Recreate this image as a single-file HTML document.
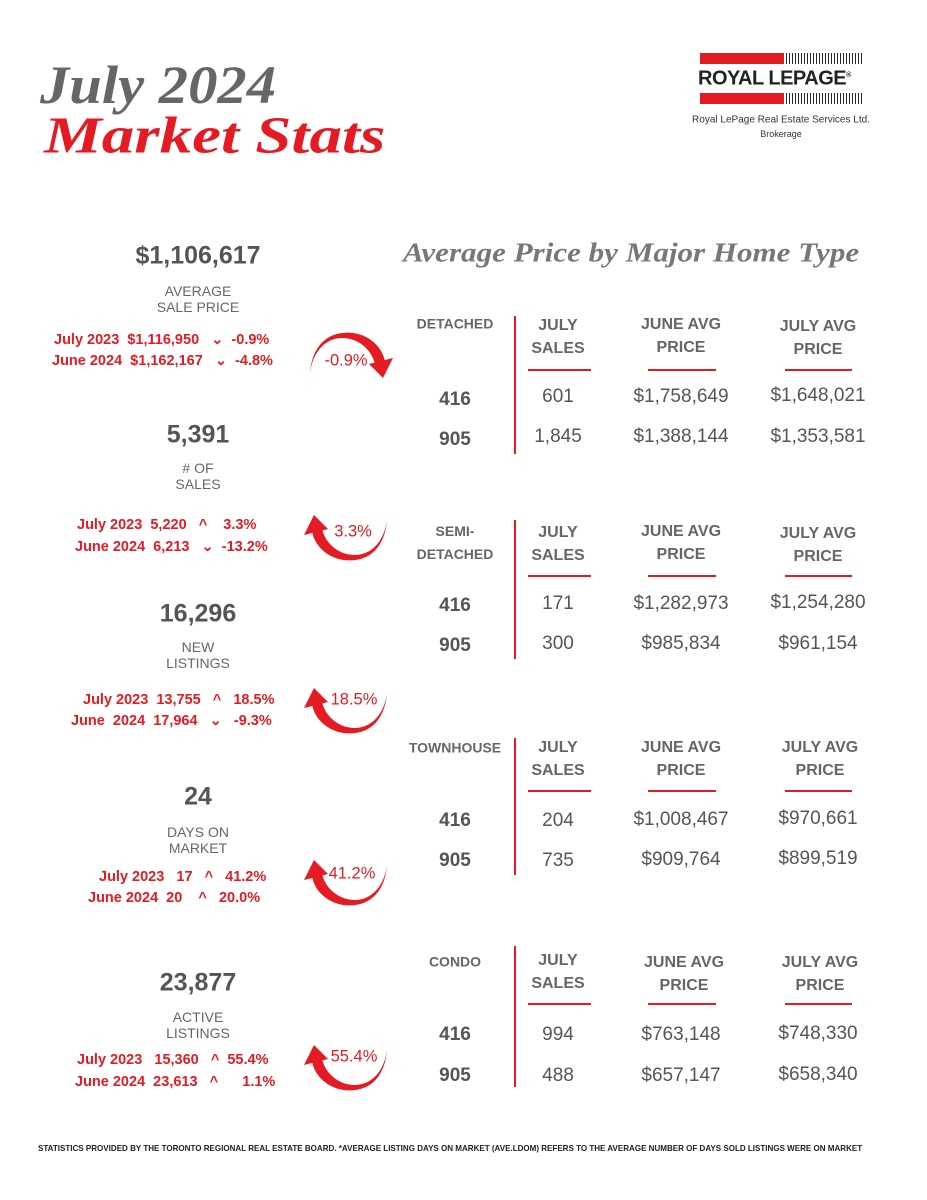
<!DOCTYPE html>
<html><head><meta charset="utf-8"><style>
body{margin:0;background:#fff;}
#p{position:relative;width:927px;height:1200px;overflow:hidden;background:#fff;font-family:"Liberation Sans",sans-serif;}
.c{position:absolute;transform:translate(-50%,-50%);white-space:nowrap;}
.l{position:absolute;transform:translate(0,-50%);white-space:nowrap;}
.big{font-size:25px;font-weight:bold;color:#555;}
.lab{font-size:14px;color:#666;text-align:center;line-height:16px;}
.red{color:#e41b23;font-weight:bold;font-size:14.5px;}
.h{font-size:16px;font-weight:bold;color:#666;text-align:center;line-height:23px;}
.t{font-size:14px;font-weight:bold;color:#666;text-align:center;line-height:23px;}
.v{font-size:19px;color:#555;}
.b{font-size:19px;font-weight:bold;color:#555;}
.ul{position:absolute;height:1.5px;background:#e41b23;}
.dv{position:absolute;width:1.5px;background:#e41b23;left:514px;}
.pct{font-size:16.5px;color:#e41b23;}
</style></head><body><div id="p">
<div class="l" style="left:40px;top:85px;font-family:'Liberation Serif',serif;font-style:italic;font-weight:bold;font-size:54px;color:#666;transform:translate(0,-50%) scaleX(1.085);transform-origin:left;">July 2024</div>
<div class="l" style="left:44px;top:136px;font-family:'Liberation Serif',serif;font-style:italic;font-weight:bold;font-size:52px;color:#e41b23;transform:translate(0,-50%) scaleX(1.25);transform-origin:left;">Market Stats</div>

<div style="position:absolute;left:700px;top:53px;width:84px;height:11px;background:#e41b23"></div>
<div style="position:absolute;left:700px;top:93px;width:84px;height:11px;background:#e41b23"></div>
<div style="position:absolute;left:786px;top:53px;width:76px;height:11px;background:repeating-linear-gradient(90deg,#222 0 1px,#fff 1px 3px)"></div>
<div style="position:absolute;left:786px;top:93px;width:76px;height:11px;background:repeating-linear-gradient(90deg,#222 0 1px,#fff 1px 3px)"></div>
<div class="l" style="left:698px;top:79px;font-size:20px;font-weight:bold;color:#222;letter-spacing:-0.5px;">ROYAL LEPAGE<sup style="font-size:7px">®</sup></div>
<div class="c" style="left:781px;top:120px;font-size:10px;color:#333;">Royal LePage Real Estate Services Ltd.</div>
<div class="c" style="left:781px;top:134px;font-size:9px;color:#333;">Brokerage</div>

<div class="l" style="left:403px;top:253px;font-family:'Liberation Serif',serif;font-style:italic;font-weight:bold;font-size:27px;color:#777;transform:translate(0,-50%) scaleX(1.15);transform-origin:left;">Average Price by Major Home Type</div>

<!-- left stats -->
<div class="c big" style="left:198px;top:256px">$1,106,617</div>
<div class="c lab" style="left:198px;top:299px">AVERAGE<br>SALE PRICE</div>
<div class="l red" style="left:54px;top:340px">July 2023 &nbsp;$1,116,950 &nbsp;&nbsp;⌄ &nbsp;-0.9%</div>
<div class="l red" style="left:52px;top:361px">June 2024 &nbsp;$1,162,167 &nbsp;&nbsp;⌄ &nbsp;-4.8%</div>

<div class="c big" style="left:198px;top:435px">5,391</div>
<div class="c lab" style="left:198px;top:476px"># OF<br>SALES</div>
<div class="l red" style="left:77px;top:525px">July 2023 &nbsp;5,220 &nbsp;&nbsp;^ &nbsp;&nbsp;&nbsp;3.3%</div>
<div class="l red" style="left:75px;top:547px">June 2024 &nbsp;6,213 &nbsp;&nbsp;⌄ &nbsp;-13.2%</div>

<div class="c big" style="left:198px;top:614px">16,296</div>
<div class="c lab" style="left:198px;top:655px">NEW<br>LISTINGS</div>
<div class="l red" style="left:83px;top:700px">July 2023 &nbsp;13,755 &nbsp;&nbsp;^ &nbsp;&nbsp;18.5%</div>
<div class="l red" style="left:71px;top:721px">June &nbsp;2024 &nbsp;17,964 &nbsp;&nbsp;⌄ &nbsp;&nbsp;-9.3%</div>

<div class="c big" style="left:198px;top:797px">24</div>
<div class="c lab" style="left:198px;top:840px">DAYS ON<br>MARKET</div>
<div class="l red" style="left:99px;top:877px">July 2023 &nbsp;&nbsp;17 &nbsp;&nbsp;^ &nbsp;&nbsp;41.2%</div>
<div class="l red" style="left:88px;top:898px">June 2024 &nbsp;20 &nbsp;&nbsp;&nbsp;^ &nbsp;&nbsp;20.0%</div>

<div class="c big" style="left:198px;top:983px">23,877</div>
<div class="c lab" style="left:198px;top:1025px">ACTIVE<br>LISTINGS</div>
<div class="l red" style="left:77px;top:1060px">July 2023 &nbsp;&nbsp;15,360 &nbsp;&nbsp;^ &nbsp;55.4%</div>
<div class="l red" style="left:75px;top:1082px">June 2024 &nbsp;23,613 &nbsp;&nbsp;^ &nbsp;&nbsp;&nbsp;&nbsp;&nbsp;1.1%</div>

<!-- arrows -->
<svg style="position:absolute;left:297px;top:318px" width="100" height="70"><g transform="rotate(180 50 35)"><path d="M12 26 C15 45,35 58,55 55 C72 53,85 40,87 15 C84 38,70 50,55 50 C40 50,26 40,22 24 Z" fill="#e41b23"/><polygon points="4,30 14,10 28,24" fill="#e41b23"/></g></svg>
<div class="c pct" style="left:346px;top:361px">-0.9%</div>
<svg style="position:absolute;left:300px;top:505px" width="100" height="70"><path d="M12 26 C15 45,35 58,55 55 C72 53,85 40,87 15 C84 38,70 50,55 50 C40 50,26 40,22 24 Z" fill="#e41b23"/><polygon points="4,30 14,10 28,24" fill="#e41b23"/></svg>
<div class="c pct" style="left:353px;top:532px">3.3%</div>
<svg style="position:absolute;left:300px;top:678px" width="100" height="70"><path d="M12 26 C15 45,35 58,55 55 C72 53,85 40,87 15 C84 38,70 50,55 50 C40 50,26 40,22 24 Z" fill="#e41b23"/><polygon points="4,30 14,10 28,24" fill="#e41b23"/></svg>
<div class="c pct" style="left:354px;top:700px">18.5%</div>
<svg style="position:absolute;left:300px;top:850px" width="100" height="70"><path d="M12 26 C15 45,35 58,55 55 C72 53,85 40,87 15 C84 38,70 50,55 50 C40 50,26 40,22 24 Z" fill="#e41b23"/><polygon points="4,30 14,10 28,24" fill="#e41b23"/></svg>
<div class="c pct" style="left:352px;top:874px">41.2%</div>
<svg style="position:absolute;left:300px;top:1035px" width="100" height="70"><path d="M12 26 C15 45,35 58,55 55 C72 53,85 40,87 15 C84 38,70 50,55 50 C40 50,26 40,22 24 Z" fill="#e41b23"/><polygon points="4,30 14,10 28,24" fill="#e41b23"/></svg>
<div class="c pct" style="left:354px;top:1057px">55.4%</div>

<!-- Detached -->
<div class="c t" style="left:455px;top:324px">DETACHED</div>
<div class="dv" style="top:316px;height:138px"></div>
<div class="c h" style="left:558px;top:337px">JULY<br>SALES</div>
<div class="c h" style="left:681px;top:336px">JUNE AVG<br>PRICE</div>
<div class="c h" style="left:818px;top:338px">JULY AVG<br>PRICE</div>
<div class="ul" style="left:528px;width:63px;top:369px"></div>
<div class="ul" style="left:648px;width:68px;top:369px"></div>
<div class="ul" style="left:785px;width:67px;top:369px"></div>
<div class="c b" style="left:455px;top:400px">416</div><div class="c v" style="left:558px;top:397px">601</div><div class="c v" style="left:681px;top:397px">$1,758,649</div><div class="c v" style="left:818px;top:396px">$1,648,021</div>
<div class="c b" style="left:455px;top:440px">905</div><div class="c v" style="left:558px;top:437px">1,845</div><div class="c v" style="left:681px;top:437px">$1,388,144</div><div class="c v" style="left:818px;top:437px">$1,353,581</div>

<!-- Semi -->
<div class="c t" style="left:455px;top:543px">SEMI-<br>DETACHED</div>
<div class="dv" style="top:520px;height:139px"></div>
<div class="c h" style="left:558px;top:544px">JULY<br>SALES</div>
<div class="c h" style="left:681px;top:543px">JUNE AVG<br>PRICE</div>
<div class="c h" style="left:818px;top:545px">JULY AVG<br>PRICE</div>
<div class="ul" style="left:528px;width:63px;top:575px"></div>
<div class="ul" style="left:648px;width:68px;top:575px"></div>
<div class="ul" style="left:785px;width:67px;top:575px"></div>
<div class="c b" style="left:455px;top:606px">416</div><div class="c v" style="left:558px;top:604px">171</div><div class="c v" style="left:681px;top:604px">$1,282,973</div><div class="c v" style="left:818px;top:603px">$1,254,280</div>
<div class="c b" style="left:455px;top:646px">905</div><div class="c v" style="left:558px;top:644px">300</div><div class="c v" style="left:681px;top:644px">$985,834</div><div class="c v" style="left:818px;top:644px">$961,154</div>

<!-- Townhouse -->
<div class="c t" style="left:455px;top:748px">TOWNHOUSE</div>
<div class="dv" style="top:738px;height:137px"></div>
<div class="c h" style="left:558px;top:759px">JULY<br>SALES</div>
<div class="c h" style="left:681px;top:759px">JUNE AVG<br>PRICE</div>
<div class="c h" style="left:820px;top:759px">JULY AVG<br>PRICE</div>
<div class="ul" style="left:528px;width:63px;top:790px"></div>
<div class="ul" style="left:648px;width:68px;top:790px"></div>
<div class="ul" style="left:785px;width:67px;top:790px"></div>
<div class="c b" style="left:455px;top:821px">416</div><div class="c v" style="left:558px;top:821px">204</div><div class="c v" style="left:681px;top:820px">$1,008,467</div><div class="c v" style="left:818px;top:819px">$970,661</div>
<div class="c b" style="left:455px;top:861px">905</div><div class="c v" style="left:558px;top:861px">735</div><div class="c v" style="left:681px;top:860px">$909,764</div><div class="c v" style="left:818px;top:859px">$899,519</div>

<!-- Condo -->
<div class="c t" style="left:455px;top:962px">CONDO</div>
<div class="dv" style="top:946px;height:141px"></div>
<div class="c h" style="left:558px;top:972px">JULY<br>SALES</div>
<div class="c h" style="left:684px;top:974px">JUNE AVG<br>PRICE</div>
<div class="c h" style="left:820px;top:974px">JULY AVG<br>PRICE</div>
<div class="ul" style="left:528px;width:63px;top:1003px"></div>
<div class="ul" style="left:648px;width:68px;top:1003px"></div>
<div class="ul" style="left:785px;width:67px;top:1003px"></div>
<div class="c b" style="left:455px;top:1035px">416</div><div class="c v" style="left:558px;top:1035px">994</div><div class="c v" style="left:681px;top:1035px">$763,148</div><div class="c v" style="left:818px;top:1034px">$748,330</div>
<div class="c b" style="left:455px;top:1076px">905</div><div class="c v" style="left:558px;top:1076px">488</div><div class="c v" style="left:681px;top:1076px">$657,147</div><div class="c v" style="left:818px;top:1075px">$658,340</div>

<div class="l" style="left:38px;top:1148px;font-size:8.5px;font-weight:bold;color:#222;transform:translate(0,-50%) scaleX(0.945);transform-origin:left;">STATISTICS PROVIDED BY THE TORONTO REGIONAL REAL ESTATE BOARD. *AVERAGE LISTING DAYS ON MARKET (AVE.LDOM) REFERS TO THE AVERAGE NUMBER OF DAYS SOLD LISTINGS WERE ON MARKET</div>
</div></body></html>
